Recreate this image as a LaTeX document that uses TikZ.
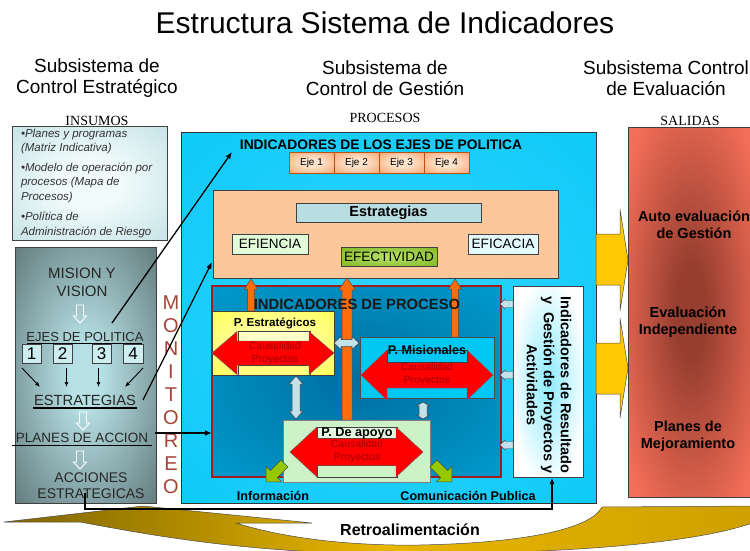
\documentclass[tikz,border=0pt]{standalone}
\usepackage{fontspec}
\setmainfont{Liberation Sans}
\newfontfamily\timesfam{Liberation Serif}
\usetikzlibrary{arrows.meta}
\newcommand\fs[2]{\fontsize{#1}{#2}\selectfont}
\definecolor{golddk}{RGB}{125,100,0}
\definecolor{goldlt}{RGB}{232,182,0}
\definecolor{goldmd}{RGB}{205,160,0}
\definecolor{yarrow}{RGB}{255,200,0}
\definecolor{monit}{RGB}{165,68,58}
\definecolor{orangeA}{RGB}{255,108,10}
\definecolor{lbA}{RGB}{195,225,232}
\definecolor{procborder}{RGB}{160,30,30}
\definecolor{misio}{RGB}{0,200,245}
\definecolor{apoyo}{RGB}{205,242,200}
\definecolor{ygreen}{RGB}{150,200,0}
\definecolor{causal}{RGB}{160,0,0}
\definecolor{redA}{RGB}{255,0,0}
\definecolor{peach}{RGB}{252,200,155}
\definecolor{estrfill}{RGB}{185,222,226}
\definecolor{numfill}{RGB}{205,238,240}
\definecolor{efifill}{RGB}{225,250,215}
\definecolor{eficfill}{RGB}{228,250,255}
\definecolor{ejeborder}{RGB}{190,80,20}
\definecolor{lbin}{RGB}{182,224,228}
\definecolor{lbout}{RGB}{70,88,90}
\definecolor{salmon}{RGB}{243,110,87}
\definecolor{saldk}{RGB}{150,62,48}
\definecolor{whin}{RGB}{140,235,255}
\definecolor{insin}{RGB}{242,251,251}
\definecolor{insout}{RGB}{165,210,215}
\definecolor{ejein}{RGB}{253,228,205}
\definecolor{ejeout}{RGB}{240,130,60}
\definecolor{yelin}{RGB}{255,255,200}
\definecolor{yelout}{RGB}{255,255,40}
\definecolor{yelmid}{RGB}{255,255,130}
\definecolor{efin}{RGB}{185,228,100}
\definecolor{efout}{RGB}{110,165,20}
\definecolor{bluein}{RGB}{50,212,255}
\definecolor{blueout}{RGB}{0,198,245}
\definecolor{procin}{RGB}{0,110,160}
\definecolor{procout}{RGB}{0,172,222}
\definecolor{apoyolt}{RGB}{228,248,225}
\pgfdeclareradialshading{leftsh}{\pgfpoint{0bp}{0bp}}{color(0bp)=(lbin); color(6bp)=(lbin); color(46bp)=(lbout); color(100bp)=(lbout)}
\pgfdeclareradialshading{salsh}{\pgfpoint{0bp}{0bp}}{color(0bp)=(saldk); color(6bp)=(saldk); color(32bp)=(salmon); color(100bp)=(salmon)}
\pgfdeclareradialshading{whsh}{\pgfpoint{0bp}{0bp}}{color(0bp)=(whin); color(28bp)=(white); color(100bp)=(white)}
\pgfdeclareradialshading{insh}{\pgfpoint{0bp}{0bp}}{color(0bp)=(insin); color(10bp)=(insin); color(55bp)=(insout); color(100bp)=(insout)}
\pgfdeclareradialshading{ejesh}{\pgfpoint{0bp}{0bp}}{color(0bp)=(ejein); color(10bp)=(ejein); color(50bp)=(ejeout); color(100bp)=(ejeout)}
\pgfdeclareradialshading{yelsh}{\pgfpoint{0bp}{0bp}}{color(0bp)=(yelin); color(50bp)=(yelout); color(100bp)=(yelout)}
\pgfdeclareradialshading{efsh}{\pgfpoint{0bp}{0bp}}{color(0bp)=(efin); color(50bp)=(efout); color(100bp)=(efout)}
\pgfdeclareradialshading{bluesh}{\pgfpoint{0bp}{0bp}}{color(0bp)=(bluein); color(50bp)=(blueout); color(100bp)=(blueout)}
\pgfdeclareradialshading{procsh}{\pgfpoint{0bp}{0bp}}{color(0bp)=(procin); color(50bp)=(procout); color(100bp)=(procout)}
% double arrows: style, x1, x2, yc, head half, body half, head length
\newcommand\hdbl[7]{\filldraw[#1] (#2,#4) -- (#2+#7,#4-#5) -- (#2+#7,#4-#6) -- (#3-#7,#4-#6) -- (#3-#7,#4-#5) -- (#3,#4) -- (#3-#7,#4+#5) -- (#3-#7,#4+#6) -- (#2+#7,#4+#6) -- (#2+#7,#4+#5) -- cycle;}
% vertical: style, ytop, ybot, xc, head half, body half, head length
\newcommand\vdbl[7]{\filldraw[#1] (#4,#2) -- (#4-#5,#2+#7) -- (#4-#6,#2+#7) -- (#4-#6,#3-#7) -- (#4-#5,#3-#7) -- (#4,#3) -- (#4+#5,#3-#7) -- (#4+#6,#3-#7) -- (#4+#6,#2+#7) -- (#4+#5,#2+#7) -- cycle;}
% up arrow: style, x, ybot, ytop, body half, head half, head length
\newcommand\oarr[7]{\filldraw[#1] (#2-#5,#3) -- (#2-#5,#4+#7) -- (#2-#6,#4+#7) -- (#2,#4) -- (#2+#6,#4+#7) -- (#2+#5,#4+#7) -- (#2+#5,#3) -- cycle;}
% hollow down arrow: x, ytop, ybot
\newcommand\hollowdown[3]{\draw[white, line width=0.9pt] (#1-3.5,#2) -- (#1+3.5,#2) -- (#1+3.5,#3-7) -- (#1+6.5,#3-7) -- (#1,#3) -- (#1-6.5,#3-7) -- (#1-3.5,#3-7) -- cycle;}
% small left arrow: y
\newcommand\smallleft[1]{\filldraw[fill=lbA, draw=black!70, line width=0.4pt] (500,#1) -- (505,#1-5) -- (505,#1-3.5) -- (513,#1-3.5) -- (513,#1+3.5) -- (505,#1+3.5) -- (505,#1+5) -- cycle;}
\tikzset{
  bx/.style={draw=black!75, line width=0.6pt, inner sep=0pt, outer sep=0pt, anchor=north west},
  txt/.style={inner sep=0pt, outer sep=0pt},
  blk/.style={line width=1.3pt, -{Latex[length=7pt,width=5.5pt]}},
  sar/.style={line width=0.9pt, -{Latex[length=5pt,width=4pt]}},
  redar/.style={fill=redA, draw=black!60, line width=0.4pt},
  lbar/.style={fill=lbA, draw=black!75, line width=0.5pt},
  orar/.style={fill=orangeA, draw=black!70, line width=0.5pt},
  yar/.style={fill=yarrow, draw=black!70, line width=0.5pt},
  grar/.style={fill=ygreen, draw=black!70, line width=0.5pt},
  ejebox/.style={bx, minimum width=45, minimum height=21, shade, shading=ejesh, draw=ejeborder, font=\fs{10}{12}},
  numbox/.style={bx, minimum width=19, minimum height=19, fill=numfill, font=\fs{17}{19}},
}
\begin{document}
\begin{tikzpicture}[x=1pt,y=-1pt]
\path[use as bounding box] (0,0) rectangle (750,551);
\clip (0,0) rectangle (750,551);

% Retroalimentacion curved arrow
\draw[draw=black!70, line width=0.5pt, left color=golddk, right color=goldmd, middle color=goldlt]
  (4,522) -- (143,506) -- (312,523) -- (236,523)
  .. controls (290,540) and (360,546) .. (420,545)
  .. controls (520,543) and (590,530) .. (602,507)
  -- (760,506) -- (760,520)
  .. controls (700,545) and (550,554) .. (400,554)
  .. controls (250,554) and (150,535) .. (80,522) -- cycle;
\node[txt, font=\bfseries\fs{16}{18}] (retro) at (410,530) {Retroalimentación};

% titles
\node[txt, font=\fs{30}{36}] (title) at (385,23) {Estructura Sistema de Indicadores};
\node[txt, font=\fs{19}{21}, align=center] (sub1) at (97,78) {Subsistema de\\Control Estratégico};
\node[txt, font=\fs{19}{21}, align=center] (sub2) at (385,78) {Subsistema de\\Control de Gestión};
\node[txt, font=\fs{19}{21}, align=center] (sub3) at (666,78) {Subsistema Control\\de Evaluación};
\node[txt, font=\timesfam\fs{14}{16}] (insl) at (97,121) {INSUMOS};
\node[txt, font=\timesfam\fs{14}{16}] (procl) at (385,118) {PROCESOS};
\node[txt, font=\timesfam\fs{14}{16}] (sall) at (690,121) {SALIDAS};

% insumos box
\node[bx, minimum width=155, minimum height=114, shade, shading=insh] (ins) at (12,126) {};
\node[txt, anchor=north west, align=left, font=\itshape\fs{11.5}{14.5}, text=black!80] (instext) at (21,129)
  {•Planes y programas\\(Matriz Indicativa)\\[5pt]•Modelo de operación por\\procesos (Mapa de\\Procesos)\\[6pt]•Política de\\Administración de Riesgo};

% left dark box
\node[bx, minimum width=141, minimum height=256, shade, shading=leftsh] (lbox) at (15,247) {};
\node[txt, font=\fs{15}{18}, align=center, text=black!85] (mision) at (82,282) {MISION Y\\VISION};
\hollowdown{80}{305}{323}
\node[txt, font=\fs{13}{15}, text=black!85] (ejes) at (85,337) {EJES DE POLITICA};
\draw[line width=0.7pt] (27,343) -- (142,343);
\node[numbox] (n1) at (22,344) {1};
\node[numbox] (n2) at (53,344) {2};
\node[numbox] (n3) at (92,344) {3};
\node[numbox, minimum width=20] (n4) at (123,344) {4};
\node[txt, font=\fs{14.7}{17}, text=black!85] (estr) at (85,400) {ESTRATEGIAS};
\draw[line width=1.6pt] (33,408) -- (137,408);
\draw[sar] (n1.south west) ++(0,5) -- ++(18,19);
\draw[sar] (n2.south) ++(4,5) -- ++(0,19);
\draw[sar] (n3.south) ++(-3,5) -- ++(0,19);
\draw[sar] (n4.south east) ++(0,5) -- ++(-18,19);
\hollowdown{83}{412}{430}
\node[txt, font=\fs{13.5}{16}, text=black!85] (planes) at (82,438) {PLANES DE ACCION};
\draw[line width=0.7pt] (12,445) -- (152,445);
\hollowdown{80}{451}{469}
\node[txt, font=\fs{14}{16}, align=center, text=black!85] (acc) at (91,486) {ACCIONES\\ESTRATEGICAS};

% MONITOREO
\node[txt, font=\fs{20}{23}, text=monit, align=center] (mon) at (171,395) {M\\O\\N\\I\\T\\O\\R\\E\\O};

% blue box
\node[bx, minimum width=415, minimum height=371, shade, shading=bluesh, draw=black!80] (blue) at (181,132) {};
\node[txt, font=\bfseries\fs{13.8}{16}] (indej) at (381,145) {INDICADORES DE LOS EJES DE POLITICA};
\node[ejebox] (e1) at (289,152) {Eje 1};
\node[ejebox] (e2) at (334,152) {Eje 2};
\node[ejebox] (e3) at (379,152) {Eje 3};
\node[ejebox] (e4) at (424,152) {Eje 4};

% peach box
\node[bx, minimum width=345, minimum height=88, fill=peach] (peach) at (213,190) {};
\node[bx, minimum width=185, minimum height=19, fill=estrfill, font=\bfseries\fs{14.5}{16}] (estrat) at (296,203) {Estrategias};
\node[bx, minimum width=76, minimum height=20, fill=efifill, font=\fs{13.5}{15}] (efien) at (232,234) {EFIENCIA};
\node[bx, minimum width=96, minimum height=19, shade, shading=efsh, font=\fs{13.6}{15}] (efect) at (341,247) {EFECTIVIDAD};
\node[bx, minimum width=70, minimum height=20, fill=eficfill, font=\fs{13.6}{15}] (efic) at (468,234) {EFICACIA};

% proceso box
\node[bx, minimum width=289, minimum height=191, shade, shading=procsh, draw=procborder, line width=1.2pt] (proc) at (212,286) {};

% orange arrows
\oarr{orar}{251}{311}{279}{3.5}{6.5}{10}
\oarr{orar}{347}{420}{278}{5}{8.5}{12}
\oarr{orar}{455}{337}{279}{3.5}{6.5}{10}
\node[txt, font=\bfseries\fs{14.8}{16}, text=black!90] (indp) at (357,304) {INDICADORES DE PROCESO};

% P. Estrategicos
\node[bx, minimum width=122, minimum height=64, shade, shading=yelsh] (pest) at (212,311) {};
\node[bx, minimum width=72, minimum height=10, fill=yelin, line width=0.4pt] (pestt) at (238,331) {};
\node[bx, minimum width=72, minimum height=10, fill=yelmid, line width=0.4pt] (pestb) at (238,365) {};
\hdbl{redar}{212}{334}{353}{21.5}{12}{25}
\node[txt, font=\bfseries\fs{11.6}{13}] (pestl) at (275,323) {P. Estratégicos};
\node[txt, font=\fs{10.4}{13}, text=causal, align=center] (c1) at (275,353) {Causalidad\\Proyectos};

% P. Misionales
\node[bx, minimum width=134, minimum height=61, fill=misio, draw=black!70] (pmis) at (360,337) {};
\hdbl{redar}{361}{493}{375}{25}{13}{26}
\node[bx, minimum width=80, minimum height=12, fill=misio, line width=0.4pt] (pmist) at (387,350) {};
\node[txt, font=\bfseries\fs{12.6}{14}] (pmisl) at (427,350) {P. Misionales};
\node[txt, font=\fs{10.4}{13}, text=causal, align=center] (c2) at (427,374) {Causalidad\\Proyectos};

% P. De apoyo
\node[bx, minimum width=147, minimum height=62, fill=apoyo, draw=black!50] (papo) at (283,420) {};
\node[bx, minimum width=80, minimum height=11, fill=apoyolt, line width=0.4pt] (papot) at (317,427) {};
\node[bx, minimum width=80, minimum height=12, fill=apoyo, line width=0.4pt] (papob) at (317,465) {};
\hdbl{redar}{290}{423}{452}{25}{13.5}{27}
\node[txt, font=\bfseries\fs{12.7}{14}] (papol) at (357,433) {P. De apoyo};
\node[txt, font=\fs{10.4}{13}, text=causal, align=center] (c3) at (357,451) {Causalidad\\Proyectos};

% light blue double arrows
\hdbl{lbar}{334}{359}{343}{6.5}{3.5}{7}
\vdbl{lbar}{376}{419}{296}{7}{4}{8}
\vdbl{lbar}{402}{419}{423}{6.5}{4}{4}

% green arrows
\begin{scope}[shift={(276,472)}, rotate=225]
  \filldraw[grar] (-12,-5) -- (3,-5) -- (3,-11) -- (14,0) -- (3,11) -- (3,5) -- (-12,5) -- cycle;
\end{scope}
\begin{scope}[shift={(442,472)}, rotate=-45]
  \filldraw[grar] (-12,-5) -- (3,-5) -- (3,-11) -- (14,0) -- (3,11) -- (3,5) -- (-12,5) -- cycle;
\end{scope}
\node[txt, font=\bfseries\fs{12.6}{14}] (info) at (273,496) {Información};
\node[txt, font=\bfseries\fs{12.6}{14}] (comu) at (468,496) {Comunicación Publica};

% right white box
\node[bx, minimum width=70, minimum height=191, shade, shading=whsh] (wbox) at (513,286) {};
\node[txt, rotate=-90, align=center, font=\bfseries\fs{14.5}{17}] (wtext) at (549,385)
  {Indicadores de Resultado\\y\ \ Gestión de Proyectos y\\Actividades};
\smallleft{304}
\smallleft{375}
\smallleft{445}

% yellow arrows to salidas
\filldraw[yar] (596,234) -- (620,234) -- (620,209) -- (628,260) -- (620,311) -- (620,285) -- (596,285) -- cycle;
\filldraw[yar] (596,343) -- (620,343) -- (620,318) -- (628,368) -- (620,418) -- (620,394) -- (596,394) -- cycle;

% salidas box
\node[bx, minimum width=126, minimum height=370, shade, shading=salsh] (sal) at (628,127) {};
\node[txt, font=\bfseries\fs{14.5}{17.5}, align=center] (auto) at (694,225) {Auto evaluación\\de Gestión};
\node[txt, font=\bfseries\fs{14.5}{17.5}, align=center] (evind) at (688,322) {Evaluación\\Independiente};
\node[txt, font=\bfseries\fs{14.5}{17.5}, align=center] (plm) at (688,436) {Planes de\\Mejoramiento};

% connectors
\coordinate (a1s) at (112,323);
\coordinate (a1e) at (232,152);
\coordinate (a2s) at (143,400);
\coordinate (a2e) at (212,262);
\coordinate (a3s) at (155,433);
\draw[blk] (a1s) -- (a1e);
\draw[blk] (a2s) -- (a2e);
\draw[blk] (a3s) -- (proc.west |- a3s);
\coordinate (fbs) at (85,493);
\draw[line width=1.2pt, -{Latex[length=6pt,width=5pt]}] (fbs) -- (85,509) -- (552,509) -- (552,478);
\end{tikzpicture}
\end{document}
